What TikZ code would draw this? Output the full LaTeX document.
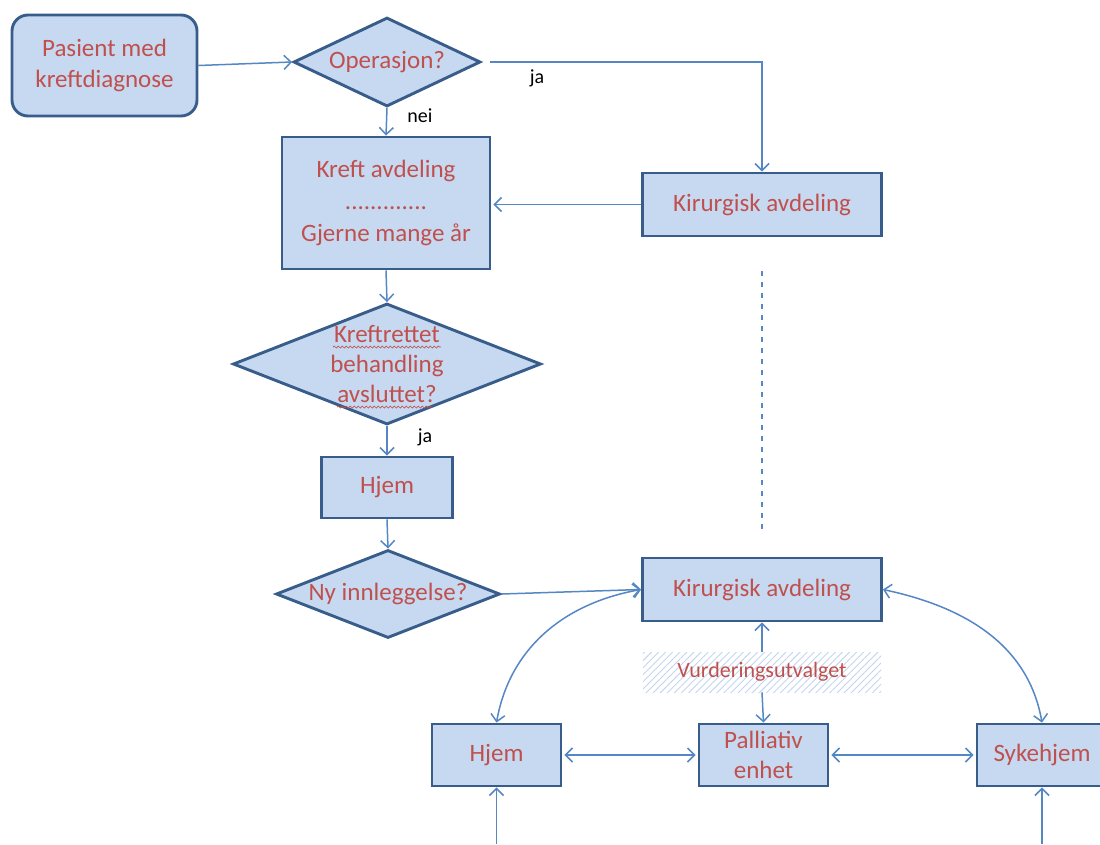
\documentclass[tikz,border=0pt]{standalone}
\usepackage{fontspec}
\setmainfont{Carlito}
\usetikzlibrary{shapes.geometric,arrows.meta,patterns.meta,decorations.pathmorphing}
\definecolor{boxfill}{HTML}{C6D9F1}
\definecolor{boxline}{HTML}{385D8A}
\definecolor{txtred}{HTML}{C0504D}
\definecolor{lineblue}{HTML}{5587C4}
\definecolor{hatchblue}{HTML}{C2D5EE}
\tikzset{
  box/.style={draw=boxline, fill=boxfill, line width=2.9pt, inner sep=0pt,
    text=txtred, font=\fontsize{25}{31}\selectfont, align=center},
  dia/.style={box, diamond},
  dtxt/.style={text=txtred, font=\fontsize{25}{30}\selectfont, align=center, inner sep=0pt},
  conn/.style={draw=lineblue, line width=1.5pt, -{Straight Barb[length=7pt,width=14pt]}},
  both/.style={draw=lineblue, line width=1.5pt, {Straight Barb[length=7pt,width=14pt]}-{Straight Barb[length=7pt,width=14pt]}},
  lab/.style={font=\fontsize{20}{24}\selectfont, text=black, inner sep=0pt},
  wavy/.style={draw=txtred, line width=0.7pt, decorate, decoration={snake, amplitude=1pt, segment length=4pt}},
}
\begin{document}
\begin{tikzpicture}[x=1pt,y=-1pt]
\useasboundingbox (0,0) rectangle (1100,844);
\clip (0,0) rectangle (1100,844);
% nodes
\node[box, rounded corners=16pt, minimum width=185pt, minimum height=101pt] (pas) at (104.5,65.5) {Pasient med\\kreftdiagnose};
\node[dia, minimum width=187pt, minimum height=89pt, label={[dtxt]center:Operasjon?}] (op) at (387,62) {};
\node[box, font=\fontsize{25}{32}\selectfont, minimum width=208pt, minimum height=132pt] (kreft) at (386,203) {Kreft avdeling\\.............\\Gjerne mange år};
\node[box, minimum width=239pt, minimum height=63pt] (k1) at (762,204.5) {Kirurgisk avdeling};
\node[dia, minimum width=308pt, minimum height=121pt, label={[dtxt]center:{Kreftrettet\\behandling\\avsluttet?}}] (d2) at (387,364) {};
\node[box, minimum width=131pt, minimum height=61pt] (h1) at (387,487.5) {Hjem};
\node[dia, minimum width=224pt, minimum height=88pt, label={[dtxt]center:Ny innleggelse?}] (d3) at (388,594) {};
\node[box, minimum width=239pt, minimum height=63pt] (k2) at (762,589.5) {Kirurgisk avdeling};
\node[pattern={Lines[angle=45,distance=5pt,line width=0.9pt]}, pattern color=hatchblue,
      minimum width=238pt, minimum height=40pt, inner sep=0pt, text=txtred,
      font=\fontsize{22}{26}\selectfont] (vu) at (762,672) {Vurderingsutvalget};
\node[box, minimum width=129pt, minimum height=62pt, font=\fontsize{25}{30}\selectfont] (pal) at (763.5,755) {Palliativ\\enhet};
\node[box, minimum width=129pt, minimum height=62pt] (h2) at (496.5,755) {Hjem};
\node[box, minimum width=130pt, minimum height=62pt] (syk) at (1042,755) {Sykehjem};
\node[lab] (nei) at (420,116) {nei};
\node[lab] (ja1) at (537,78) {ja};
\node[lab] (ja2) at (425,437) {ja};
\coordinate (b1) at (496.5,844);
\coordinate (b2) at (1042,844);
% spell-check underlines
\draw[wavy] (333,347) -- (441,347);
\draw[wavy] (337,407) -- (432,407);
% connectors
\draw[conn] (pas.east) -- (op.west);
\draw[conn] ([xshift=8pt]op.east) -| (k1.north);
\draw[conn] (op.south) -- (kreft.north);
\draw[conn, shorten >=2pt] (k1.west) -- (k1.west -| kreft.east);
\draw[lineblue, line width=1.3pt, dash pattern=on 5pt off 6pt, shorten <=34pt, shorten >=25pt] (k1.south) -- (k2.north);
\draw[conn] (kreft.south) -- (d2.north);
\draw[conn] (d2.south) -- (h1.north);
\draw[conn] (h1.south) -- (d3.north);
\draw[conn] (d3.east) -- (k2.west);
\draw[conn] (vu.north) -- (k2.south);
\draw[conn] (vu.south) -- (pal.north);
\draw[both, shorten <=2pt, shorten >=2pt] (h2.east) -- (pal.west);
\draw[both, shorten <=2pt, shorten >=2pt] (pal.east) -- (syk.west);
\draw[both] (h2.north) to[out=80,in=190] (k2.west);
\draw[both] (k2.east) to[out=-12,in=100] (syk.north);
\draw[conn] (b1) -- (h2.south);
\draw[conn] (b2) -- (syk.south);
\end{tikzpicture}
\end{document}
